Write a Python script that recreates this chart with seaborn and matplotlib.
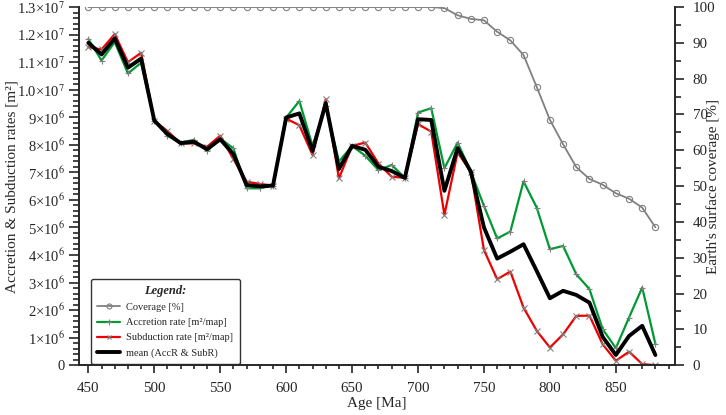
import numpy as np
import pandas as pd
import matplotlib
matplotlib.use("Agg")
import matplotlib.pyplot as plt
from matplotlib.ticker import MultipleLocator, FixedLocator
import seaborn as sns

# ages every 10 Ma from 450 to 880
age = [450, 460, 470, 480, 490, 500, 510, 520, 530, 540, 550, 560, 570, 580, 590,
       600, 610, 620, 630, 640, 650, 660, 670, 680, 690, 700, 710, 720, 730, 740,
       750, 760, 770, 780, 790, 800, 810, 820, 830, 840, 850, 860, 870, 880]

# rates in units of 1e6 m2
accretion = [11.84, 11.06, 11.73, 10.59, 10.98, 8.88, 8.33, 8.08, 8.18, 7.78, 8.23, 7.87, 6.42, 6.42, 6.52,
             8.99, 9.59, 7.96, 9.41, 7.39, 7.96, 7.60, 7.08, 7.27, 6.80, 9.17, 9.33, 7.15, 8.08, 7.03,
             5.78, 4.60, 4.85, 6.67, 5.72, 4.21, 4.33, 3.30, 2.76, 1.31, 0.62, 1.73, 2.82, 0.77]
subduction = [11.55, 11.46, 12.02, 11.00, 11.34, 8.87, 8.50, 8.05, 8.05, 7.93, 8.33, 7.48, 6.66, 6.58, 6.52,
              8.95, 8.71, 7.63, 9.65, 6.78, 7.96, 8.08, 7.32, 6.84, 6.80, 8.75, 8.48, 5.46, 7.72, 7.03,
              4.18, 3.12, 3.40, 2.09, 1.25, 0.64, 1.12, 1.79, 1.80, 0.76, 0.16, 0.49, 0.04, 0.0]
mean_rate = [11.70, 11.28, 11.86, 10.80, 11.13, 8.88, 8.39, 8.06, 8.11, 7.84, 8.20, 7.66, 6.54, 6.49, 6.52,
             8.99, 9.14, 7.78, 9.51, 7.12, 7.96, 7.82, 7.20, 7.05, 6.80, 8.93, 8.90, 6.33, 7.88, 7.03,
             5.00, 3.87, 4.12, 4.39, 3.42, 2.43, 2.70, 2.55, 2.27, 1.03, 0.37, 1.06, 1.43, 0.37]
coverage = [100] * 27 + [99.7, 97.7, 96.7, 96.3, 93.1, 90.7, 86.6, 77.7, 68.5, 61.7, 55.3, 52.0,
                         50.4, 48.0, 46.5, 44.0, 38.5]

df = pd.DataFrame({"age": age,
                   "acc": np.array(accretion) * 1e6,
                   "sub": np.array(subduction) * 1e6,
                   "mean": np.array(mean_rate) * 1e6,
                   "cov": coverage})

sns.set_style("ticks")
plt.rcParams["font.family"] = ["Liberation Serif", "DejaVu Serif"]
plt.rcParams["mathtext.fontset"] = "stix"

fig, ax = plt.subplots(figsize=(7.26, 4.15), dpi=100)
fig.subplots_adjust(left=0.109, right=0.93, top=0.983, bottom=0.12)
ax2 = ax.twinx()

sns.lineplot(data=df, x="age", y="cov", ax=ax2, color="#808080", lw=1.3, marker="o",
             markersize=4.5, markerfacecolor="none", markeredgecolor="#808080", markeredgewidth=0.8)
sns.lineplot(data=df, x="age", y="acc", ax=ax, color="#009933", lw=1.6, marker="+",
             markersize=5, markeredgecolor="#808080", markeredgewidth=0.8)
sns.lineplot(data=df, x="age", y="sub", ax=ax, color="#ee0000", lw=1.6, marker="x",
             markersize=4, markeredgecolor="#808080", markeredgewidth=0.8)
sns.lineplot(data=df, x="age", y="mean", ax=ax, color="black", lw=2.8)

ax.set_xlim(443, 895)
ax.set_ylim(0, 1.3e7)
ax2.set_ylim(0, 100)

yt = np.arange(0, 14) * 1e6
ylabels = ["0"] + ["%d×10$^{6}$" % i for i in range(1, 10)] + \
          ["%.1f×10$^{7}$" % (i / 10) for i in range(10, 14)]
ax.yaxis.set_major_locator(FixedLocator(yt))
ax.set_yticklabels(ylabels)
ax.yaxis.set_minor_locator(MultipleLocator(2e5))
ax.xaxis.set_major_locator(FixedLocator(np.arange(450, 900, 50)))
ax.xaxis.set_minor_locator(MultipleLocator(10))
ax2.yaxis.set_major_locator(MultipleLocator(10))
ax2.yaxis.set_minor_locator(MultipleLocator(5))

ax.tick_params(axis="x", which="major", direction="out", length=6, width=1.2, pad=6, labelsize=10.8)
ax.tick_params(axis="x", which="minor", direction="out", length=3, width=1.2)
ax.tick_params(axis="y", which="major", direction="out", length=7, width=1.2, pad=3, labelsize=10.5)
ax.tick_params(axis="y", which="minor", direction="out", length=4, width=1.2)
ax2.tick_params(axis="y", which="major", direction="out", length=6.5, width=1.2, pad=6, labelsize=10.8)
ax2.tick_params(axis="y", which="minor", direction="out", length=4.5, width=1.2)

for a in (ax, ax2):
    a.spines["top"].set_visible(False)
    for s in ("left", "right", "bottom"):
        a.spines[s].set_linewidth(1.2)

ax.set_xlabel("Age [Ma]", fontsize=11)
ax.set_ylabel("Accretion & Subduction rates [m²]", fontsize=11)
ax2.set_ylabel("Earth's surface coverage [%]", fontsize=11)
ax.xaxis.set_label_coords(0.5, -0.09)
ax.yaxis.set_label_coords(-0.101, 0.5)
ax2.yaxis.set_label_coords(1.052, 0.5)

handles = [ax2.lines[0], ax.lines[0], ax.lines[1], ax.lines[2]]
labels = ["Coverage [%]", "Accretion rate [m²/map]", "Subduction rate [m²/map]", "mean (AccR & SubR)"]
leg = ax.legend(handles, labels, loc="lower left", bbox_to_anchor=(0.02, 0.004), fontsize=7.5,
                title="Legend:", title_fontproperties={"weight": "bold", "style": "italic", "size": 9},
                frameon=True, fancybox=True, edgecolor="#333333", framealpha=1,
                handlelength=2.2, handletextpad=0.6, labelspacing=0.55, borderpad=0.6,
                borderaxespad=0.0, markerscale=0.8)
leg.get_frame().set_linewidth(1.0)

fig.savefig("out.png", dpi=100)
